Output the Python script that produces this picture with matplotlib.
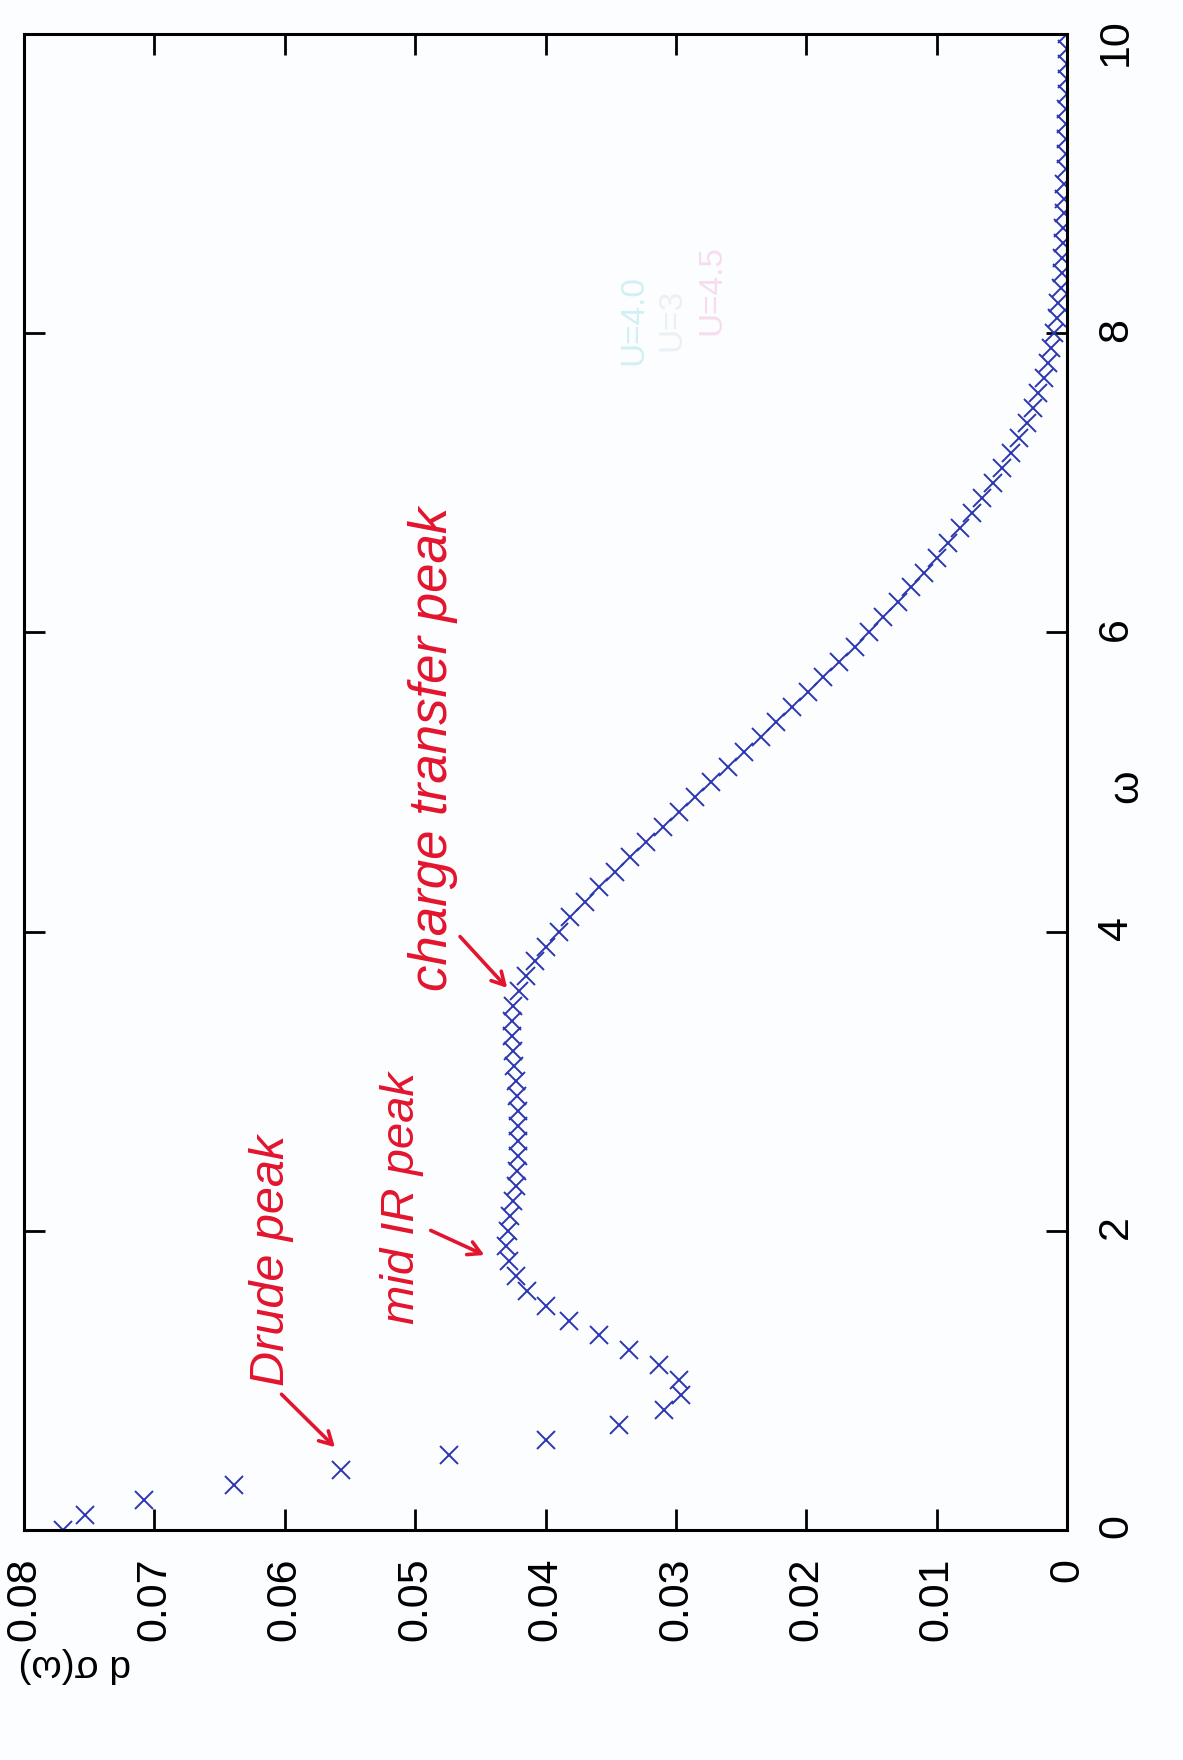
import numpy as np
import matplotlib
matplotlib.use("Agg")
import matplotlib.pyplot as plt

plt.rcParams["font.family"] = ["Liberation Sans", "DejaVu Sans"]

# optical conductivity d*sigma(omega), sampled every 0.1 in omega
omega = np.round(np.arange(0.0, 10.05, 0.1), 1)
sigma = [
    0.0770, 0.0753, 0.0708, 0.0639, 0.0557, 0.0474, 0.0400, 0.0344, 0.0309, 0.0296,
    0.0298, 0.0313, 0.0336, 0.0359, 0.0382, 0.0400, 0.0414, 0.0423, 0.0428, 0.0430,
    0.0429, 0.0427, 0.0425, 0.0423, 0.0422, 0.0421, 0.0421, 0.0421, 0.0421, 0.0422,
    0.0423, 0.0424, 0.0425, 0.0426, 0.0426, 0.0425, 0.0420, 0.0415, 0.0408, 0.0400,
    0.0390, 0.0381, 0.0370, 0.0359, 0.0347, 0.0335, 0.0323, 0.0310, 0.0298, 0.0285,
    0.0273, 0.0260, 0.0248, 0.0235, 0.0223, 0.0211, 0.0199, 0.0187, 0.0175, 0.0163,
    0.0152, 0.0141, 0.0130, 0.0120, 0.0110, 0.0100, 0.0091, 0.0082, 0.0073, 0.0065,
    0.0057, 0.0050, 0.0043, 0.0037, 0.0031, 0.0026, 0.0022, 0.0018, 0.0015, 0.0012,
    0.0010, 0.0008, 0.0007, 0.0005, 0.0004, 0.0004, 0.0003, 0.0003, 0.0002, 0.0002,
    0.0002, 0.0001, 0.0001, 0.0001, 0.0001, 0.0001, 0.0000, 0.0000, 0.0000, 0.0000,
    0.0000,
]

sigma_ticks = [0.08, 0.07, 0.06, 0.05, 0.04, 0.03, 0.02, 0.01, 0.0]
sigma_labels = ["0.08", "0.07", "0.06", "0.05", "0.04", "0.03", "0.02", "0.01", "0"]
omega_ticks = [0, 2, 4, 6, 8, 10]
omega_labels = ["0", "2", "4", "6", "8", "10"]

# hand-written notes: (text, size, text position, arrow tail, arrow head) in (sigma, omega)
notes = [
    ("Drude peak", 35, (0.0610, 1.80), (0.0604, 0.92), (0.0560, 0.54)),
    ("mid IR peak", 34, (0.0510, 2.22), (0.0490, 2.01), (0.0445, 1.83)),
    ("charge transfer peak", 38, (0.0486, 5.22), (0.0467, 3.98), (0.0428, 3.61)),
]

ink = "#e3142e"
blue = "#2b36b0"

fig = plt.figure(figsize=(11.83, 17.60), dpi=100)
fig.patch.set_facecolor("#fcfdfe")
ax = fig.add_axes([0.0203, 0.1307, 0.8817, 0.8500])
ax.set_facecolor("#fcfdfe")

# page is turned a quarter: omega runs upwards, sigma runs right-to-left
ax.plot(sigma, omega, ls="none", marker="x", ms=13, mew=1.4, color=blue)
ax.set_xlim(0.08, 0.0)
ax.set_ylim(0, 10)

ax.set_xticks(sigma_ticks)
ax.set_xticklabels(sigma_labels)
ax.set_yticks(omega_ticks)
ax.set_yticklabels(omega_labels)
ax.tick_params(axis="both", direction="in", length=15, width=2.0,
               labelsize=31, labelrotation=90)
ax.tick_params(axis="x", top=True, bottom=True, pad=20)
ax.tick_params(axis="y", left=True, right=True, labelleft=False,
               labelright=True, pad=21)
for s in ax.spines.values():
    s.set_linewidth(2.2)

fig.text(1126 / 1183, 1 - 786 / 1760, "ω", rotation=90, fontsize=31,
         ha="center", va="center")
fig.text(75 / 1183, 1 - 1665 / 1760, "d σ(ω)", rotation=180, fontsize=28,
         ha="center", va="center")

# faint key showing through from the back of the sheet
fig.text(634 / 1183, 1 - 320 / 1760, "U=4.0", rotation=90, fontsize=24,
         color="#d2f0f4", ha="center", va="center")
fig.text(672 / 1183, 1 - 320 / 1760, "U=3", rotation=90, fontsize=24,
         color="#e9f1f6", ha="center", va="center")
fig.text(712 / 1183, 1 - 290 / 1760, "U=4.5", rotation=90, fontsize=24,
         color="#f6dcf0", ha="center", va="center")

for text, size, pos, tail, head in notes:
    ax.text(pos[0], pos[1], text, rotation=90, fontsize=size, style="italic",
            color=ink, ha="center", va="center")
    ax.annotate("", xy=head, xytext=tail,
                arrowprops=dict(arrowstyle="->,head_length=0.9,head_width=0.5",
                                color=ink, lw=2.6))

fig.savefig("out.png", dpi=100, facecolor=fig.get_facecolor())
plt.close(fig)
